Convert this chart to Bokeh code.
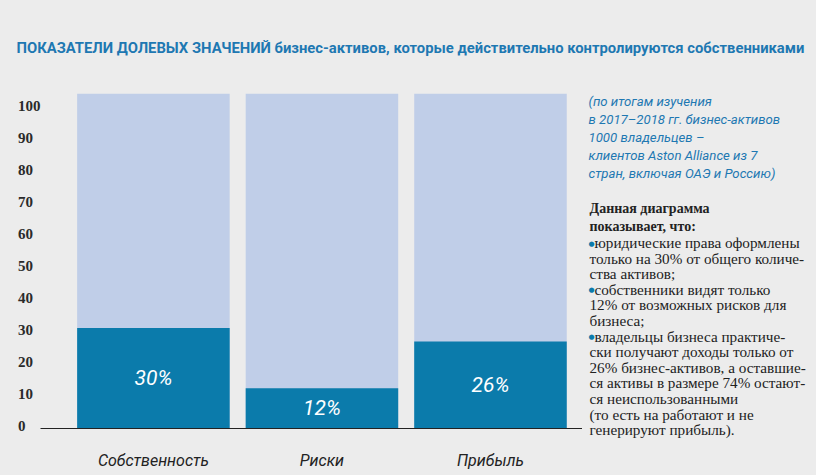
from bokeh.plotting import figure
from bokeh.models import Range1d, LinearAxis, FixedTicker, Label, ColumnDataSource
from bokeh.layouts import column, row
from bokeh.embed import file_html
from bokeh.resources import INLINE
from bokeh.core.properties import value

# ---------------- data ----------------
categories = ["Собственность", "Риски", "Прибыль"]
shares = [30, 12, 26]
totals = [100, 100, 100]
share_labels = ["30%", "12%", "26%"]
y_ticks = [0, 10, 20, 30, 40, 50, 60, 70, 80, 90, 100]

title_text = ("ПОКАЗАТЕЛИ ДОЛЕВЫХ ЗНАЧЕНИЙ  бизнес-активов, "
              "которые действительно контролируются собственниками")
note_lines = [
    "(по итогам изучения",
    "в 2017–2018 гг. бизнес-активов",
    "1000 владельцев –",
    "клиентов Aston Alliance из 7",
    "стран, включая ОАЭ и Россию)",
]
summary_head = ["Данная диаграмма", "показывает, что:"]
summary_lines = [
    (True, "юридические права оформлены"),
    (False, "только на 30% от общего количе-"),
    (False, "ства активов;"),
    (True, "собственники видят только"),
    (False, "12% от возможных рисков для"),
    (False, "бизнеса;"),
    (True, "владельцы бизнеса практиче-"),
    (False, "ски получают доходы только от"),
    (False, "26% бизнес-активов, а оставшие-"),
    (False, "ся активы в размере 74% остают-"),
    (False, "ся неиспользованными"),
    (False, "(то есть на работают и не"),
    (False, "генерируют прибыль)."),
]

# ---------------- styles ----------------
BG = "#ececec"
DARK = "#0b7bab"
LIGHT = "#c0cee8"
BLUE_TEXT = "#1e78b2"
INK = "#222222"

W, H = 816, 475
HEAD_H = 75
CHART_W = 582
SIDE_W = W - CHART_W
BODY_H = H - HEAD_H


def blank(width, height):
    f = figure(width=width, height=height, output_backend="svg", toolbar_location=None,
               x_range=Range1d(0, 1), y_range=Range1d(0, 1),
               x_axis_type=None, y_axis_type=None,
               min_border_left=0, min_border_right=0, min_border_top=0, min_border_bottom=0)
    f.background_fill_color = BG
    f.border_fill_color = BG
    f.outline_line_color = None
    f.grid.visible = False
    f.frame_align = False
    return f


# ---------------- header ----------------
head = blank(W, HEAD_H)
head.add_layout(Label(x=16, y=HEAD_H - 47, x_units="screen", y_units="screen",
                      text=title_text, text_font="Roboto", text_font_style="bold",
                      text_font_size="14.8px", text_color=BLUE_TEXT, text_baseline="middle"))

# ---------------- chart ----------------
x_pos = list(range(len(categories)))
mid = [v / 2 for v in shares]
src = ColumnDataSource(dict(x=x_pos, share=shares, total=totals, mid=mid, lab=share_labels))

p = figure(width=CHART_W, height=BODY_H, output_backend="svg", toolbar_location=None,
           x_range=Range1d(-0.67, 2.546), y_range=Range1d(0, 100),
           y_axis_type=None,
           min_border_left=40, min_border_right=0,
           min_border_top=93 - HEAD_H, min_border_bottom=47)
p.background_fill_color = BG
p.border_fill_color = BG
p.outline_line_color = None
p.grid.visible = False
p.frame_align = False

p.vbar(x="x", top="total", width=0.905, source=src, color=LIGHT, line_color=None)
p.vbar(x="x", top="share", width=0.905, source=src, color=DARK, line_color=None)
p.text(x="x", y="mid", text="lab", source=src, text_color="white",
       text_font=value("Roboto"), text_font_style="italic", text_font_size="21px",
       text_align="center", text_baseline="middle")

xa = p.xaxis[0]
xa.ticker = FixedTicker(ticks=x_pos)
xa.major_label_overrides = {i: c for i, c in zip(x_pos, categories)}
xa.axis_line_color = INK
xa.axis_line_width = 1
xa.major_tick_line_color = None
xa.minor_tick_line_color = None
xa.major_label_text_font = "Roboto"
xa.major_label_text_font_style = "italic"
xa.major_label_text_font_size = "16px"
xa.major_label_text_color = INK
xa.major_label_standoff = 16

# y axis with the tick scale as printed in the original
p.extra_y_ranges = {"ticks": Range1d(-0.9375, 103.75)}
pad = {t: str(t) + "\u2007" * (3 - len(str(t))) for t in y_ticks}
ya = LinearAxis(y_range_name="ticks", ticker=FixedTicker(ticks=y_ticks),
                major_label_overrides=pad)
ya.axis_line_color = None
ya.major_tick_line_color = None
ya.minor_tick_line_color = None
ya.major_tick_out = 0
ya.major_tick_in = 0
ya.major_label_standoff = 0
ya.major_label_text_font = "Liberation Serif"
ya.major_label_text_font_style = "bold"
ya.major_label_text_font_size = "15px"
ya.major_label_text_color = "#2a2a2a"
p.add_layout(ya, "left")

# ---------------- side notes ----------------
side = blank(SIDE_W, BODY_H)


def sx(x):
    return x - CHART_W


def sy(y):
    return H - y


for i, line in enumerate(note_lines):
    side.add_layout(Label(x=sx(588), y=sy(101 + 18 * i), x_units="screen", y_units="screen",
                          text=line, text_font="Roboto", text_font_style="italic",
                          text_font_size="13.2px", text_color=BLUE_TEXT,
                          text_baseline="middle"))

for i, line in enumerate(summary_head):
    side.add_layout(Label(x=sx(589), y=sy(208 + 17.5 * i), x_units="screen", y_units="screen",
                          text=line, text_font="Liberation Serif", text_font_style="bold",
                          text_font_size="14px", text_color=INK, text_baseline="middle"))

for i, (bullet, line) in enumerate(summary_lines):
    yy = sy(242 + 15.6 * i)
    if bullet:
        side.add_layout(Label(x=sx(588), y=yy - 1, x_units="screen", y_units="screen",
                              text="●", text_font="DejaVu Sans", text_font_size="7px",
                              text_color=DARK, text_baseline="middle"))
    side.add_layout(Label(x=sx(594 if bullet else 589), y=yy, x_units="screen", y_units="screen",
                          text=line, text_font="Liberation Serif", text_font_size="15.2px",
                          text_color=INK, text_baseline="middle"))

layout = column(head, row(p, side, spacing=0, styles={"background-color": BG}),
                spacing=0, styles={"background-color": BG})
open("out.html", "w").write(file_html(layout, INLINE))
